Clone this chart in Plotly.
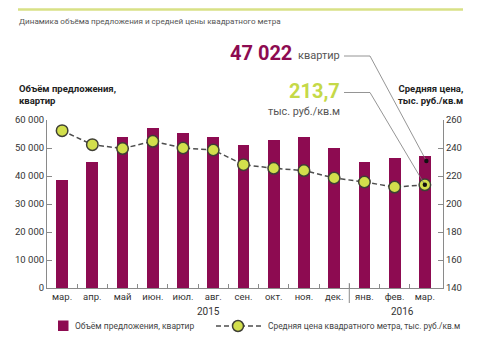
import plotly.graph_objects as go

# --- data -------------------------------------------------------------
months = ["мар.", "апр.", "май", "июн.", "июл.", "авг.", "сен.",
          "окт.", "ноя.", "дек.", "янв.", "фев.", "мар."]
years = ["2015", "2016"]
volume = [38500, 45000, 54000, 57000, 55200, 53800, 51200,
          52800, 53800, 50000, 45000, 46300, 47022]          # квартир
price = [252.4, 242.4, 239.6, 244.8, 240.0, 238.6, 228.1,
         225.5, 223.9, 218.6, 215.7, 212.1, 213.7]           # тыс. руб./кв.м
vol_ticks = [0, 10000, 20000, 30000, 40000, 50000, 60000]
price_ticks = [140, 160, 180, 200, 220, 240, 260]

# --- styling ----------------------------------------------------------
W, H = 483, 348
L, R, T, B = 47, 443, 120, 288          # plot area in pixels
BAR = "#8d0b51"
LIME = "#d2df4c"
LIME_TXT = "#c5d948"
AXIS = "#8a8a8a"
TXT = "#333333"
FONT = "Roboto"
XR = [-0.5, 12.6]
YL = [0, 60000]
YR = [140, 260]

def px(x):  # pixel -> paper x
    return (x - L) / (R - L)

def py(y):  # pixel -> paper y
    return (B - y) / (B - T)

def xd(i):  # category index -> paper x
    return (i - XR[0]) / (XR[1] - XR[0])

def yl(v):  # left-axis value -> paper y
    return (v - YL[0]) / (YL[1] - YL[0])

def yr(v):  # right-axis value -> paper y
    return (v - YR[0]) / (YR[1] - YR[0])

def fmt_int(v):
    return f"{v:,}".replace(",", " ")

def fmt_dec(v):
    return f"{v:.1f}".replace(".", ",")

def dot(cx, cy, r):  # small circle in paper units, radius in pixels
    rx, ry = r / (R - L), r / (B - T)
    return dict(type="circle", xref="paper", yref="paper",
                x0=cx - rx, x1=cx + rx, y0=cy - ry, y1=cy + ry)

idx = list(range(len(months)))

fig = go.Figure()
fig.add_trace(go.Bar(
    x=idx, y=volume, width=0.39, marker=dict(color=BAR, line=dict(width=0)),
    name="Объём предложения, квартир", yaxis="y", showlegend=False,
    hoverinfo="skip",
))
fig.add_trace(go.Scatter(
    x=idx, y=price, yaxis="y2", mode="lines+markers",
    line=dict(color="#4d4d4d", width=1.5, dash="5px,3px"),
    marker=dict(size=11.5, color=LIME, line=dict(color="#3f3f35", width=1.5)),
    name="Средняя цена квадратного метра, тыс. руб./кв.м",
    showlegend=False, hoverinfo="skip", cliponaxis=False,
))

shapes = []
ann = []

# header rule and title
shapes.append(dict(type="line", xref="paper", yref="paper",
                   x0=px(18), x1=px(463), y0=py(9.5), y1=py(9.5),
                   line=dict(color="#d8e186", width=2.5)))
ann.append(dict(text="Динамика объёма предложения и средней цены квадратного метра",
                x=px(17), y=py(21), xanchor="left", yanchor="middle",
                font=dict(size=8.1, color="#555555", family=FONT)))

# axis titles
ann.append(dict(text="<b>Объём предложения,<br>квартир</b>",
                x=px(17), y=py(94), xanchor="left", yanchor="middle", align="left",
                font=dict(size=9.5, color="#222222", family=FONT)))
ann.append(dict(text="<b>Средняя цена,<br>тыс. руб./кв.м</b>",
                x=px(465), y=py(94), xanchor="right", yanchor="middle", align="right",
                font=dict(size=9.5, color="#222222", family=FONT)))

# year labels and separator between years
ann.append(dict(text=years[0], x=px(208), y=py(311), xanchor="center", yanchor="middle",
                font=dict(size=10, color=TXT, family=FONT)))
ann.append(dict(text=years[1], x=px(402), y=py(311), xanchor="center", yanchor="middle",
                font=dict(size=10, color=TXT, family=FONT)))
shapes.append(dict(type="line", xref="paper", yref="paper",
                   x0=xd(9.5), x1=xd(9.5), y0=py(283), y1=py(303),
                   line=dict(color=AXIS, width=1)))

# callouts for the latest month
ann.append(dict(text=f"<b>{fmt_int(volume[-1])}</b>", x=px(294), y=py(53),
                xanchor="right", yanchor="middle",
                font=dict(size=20, color=BAR, family=FONT)))
ann.append(dict(text="квартир", x=px(296), y=py(55.5), xanchor="left", yanchor="middle",
                font=dict(size=11, color="#555555", family=FONT)))
ann.append(dict(text=f"<b>{fmt_dec(price[-1])}</b>", x=px(342), y=py(91.5),
                xanchor="right", yanchor="middle",
                font=dict(size=20, color=LIME_TXT, family=FONT)))
ann.append(dict(text="тыс. руб./кв.м", x=px(342), y=py(111), xanchor="right",
                yanchor="middle", font=dict(size=10.8, color="#555555", family=FONT)))

LEAD = dict(color="#7a7a7a", width=0.8)
# leader to the bar
vx, vy = xd(12.05), yl(volume[-1] * 0.965)
shapes.append(dict(type="path", xref="paper", yref="paper",
                   path=f"M{px(344)},{py(56)} L{px(370)},{py(56)} L{vx},{vy}",
                   line=LEAD))
shapes.append({**dot(vx, vy, 2.2), "fillcolor": "#111111", "line": dict(width=0)})
# leader to the price marker
qx, qy = xd(12), yr(price[-1])
shapes.append(dict(type="path", xref="paper", yref="paper",
                   path=f"M{px(344)},{py(92.5)} L{px(370)},{py(92.5)} L{qx},{qy}",
                   line=LEAD))
shapes.append({**dot(qx, qy, 2.2), "fillcolor": "#111111", "line": dict(width=0)})

# legend
LY = 326
shapes.append(dict(type="rect", xref="paper", yref="paper",
                   x0=px(58), x1=px(68.5), y0=py(LY + 5), y1=py(LY - 5.5),
                   fillcolor=BAR, line=dict(width=0)))
ann.append(dict(text="Объём предложения, квартир", x=px(73), y=py(LY),
                xanchor="left", yanchor="middle",
                font=dict(size=8.5, color="#444444", family=FONT)))
shapes.append(dict(type="line", xref="paper", yref="paper",
                   x0=px(216), x1=px(261), y0=py(LY), y1=py(LY),
                   line=dict(color="#4d4d4d", width=1.5, dash="5px,3px")))
shapes.append({**dot(px(238), py(LY), 5.5), "fillcolor": LIME,
               "line": dict(color="#3f3f35", width=1.5)})
ann.append(dict(text="Средняя цена квадратного метра, тыс. руб./кв.м", x=px(266),
                y=py(LY), xanchor="left", yanchor="middle",
                font=dict(size=8.4, color="#444444", family=FONT)))

for a in ann:
    a.update(xref="paper", yref="paper", showarrow=False)

fig.update_layout(
    width=W, height=H,
    margin=dict(l=L, r=W - R, t=T, b=H - B, pad=0),
    paper_bgcolor="white", plot_bgcolor="white",
    separators=", ",
    showlegend=False,
    bargap=0,
    font=dict(family=FONT, color=TXT, size=9.5),
    xaxis=dict(
        range=XR, tickmode="array", tickvals=idx, ticktext=months,
        ticks="", showgrid=False, zeroline=False,
        showline=True, linecolor=AXIS, linewidth=1,
        tickfont=dict(size=9.5, color=TXT, family=FONT),
        minor=dict(tickmode="array", tickvals=[i + 0.5 for i in range(len(months) - 1)],
                   ticks="inside", ticklen=4, tickcolor=AXIS, tickwidth=1),
        fixedrange=True,
    ),
    yaxis=dict(
        range=YL, tickmode="array", tickvals=vol_ticks,
        ticktext=[fmt_int(v) for v in vol_ticks],
        ticks="inside", ticklen=5, tickcolor=AXIS, tickwidth=1,
        showline=True, linecolor=AXIS, linewidth=1,
        showgrid=False, zeroline=False, ticklabelstandoff=0,
        tickfont=dict(size=9.5, color=TXT, family=FONT),
        fixedrange=True,
    ),
    yaxis2=dict(
        range=YR, overlaying="y", side="right", tickmode="array",
        tickvals=price_ticks, ticks="inside", ticklen=5, tickcolor=AXIS, tickwidth=1,
        showline=True, linecolor=AXIS, linewidth=1,
        showgrid=False, zeroline=False, ticklabelstandoff=0,
        tickfont=dict(size=9.5, color=TXT, family=FONT),
        fixedrange=True,
    ),
    shapes=shapes,
    annotations=ann,
)

fig.write_html("out.html", config={"displayModeBar": False})
